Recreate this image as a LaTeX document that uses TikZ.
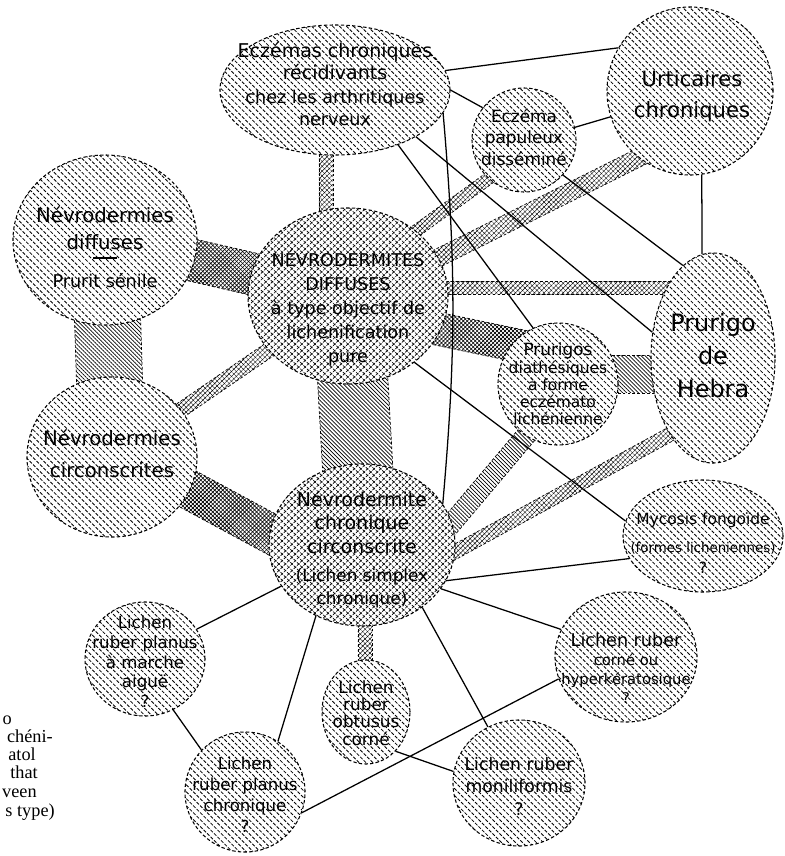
\documentclass[tikz,border=0pt]{standalone}
\usepackage{fontspec}
\setmainfont{DejaVu Sans}
\newfontfamily\capfont{Liberation Serif}
\usetikzlibrary{shapes.geometric,patterns.meta,calc,backgrounds}

\tikzset{
  blob/.style={ellipse, inner sep=0pt, draw, line width=0.75pt,
    dash pattern=on 2.4pt off 1.6pt, preaction={fill=white},
    pattern={Lines[angle=-45,distance=3.5pt,line width=0.6pt]}},
  crossblob/.style={blob,
    preaction={pattern={Lines[angle=45,distance=3.3pt,line width=0.45pt]}},
    pattern={Lines[angle=-45,distance=3.3pt,line width=0.45pt]}},
  txt/.style={align=center, inner sep=0pt},
  link/.style={line width=0.9pt},
  band/.style={draw, line width=0.5pt, dash pattern=on 2pt off 1.5pt,
    preaction={fill=white}},
  darkband/.style={band,
    preaction={pattern={Lines[angle=45,distance=2pt,line width=0.45pt]}},
    pattern={Lines[angle=-45,distance=2pt,line width=0.45pt]}},
  midband/.style={band, pattern={Lines[angle=-45,distance=2pt,line width=0.5pt]}},
  lightband/.style={band,
    preaction={pattern={Lines[angle=45,distance=2.4pt,line width=0.3pt]}},
    pattern={Lines[angle=-45,distance=2.4pt,line width=0.3pt]}},
  captxt/.style={font=\capfont\fontsize{13}{15}\selectfont, inner sep=0pt}
}

% band between two nodes: [style]{node}{offset}{node}{offset}{half width}
\newcommand\band[6][lightband]{%
  \coordinate (ba) at ($(#2)+(#3)$);
  \coordinate (bb) at ($(#4)+(#5)$);
  \path[#1] ($(ba)!#6!90:(bb)$) -- ($(bb)!#6!-90:(ba)$)
    -- ($(bb)!#6!90:(ba)$) -- ($(ba)!#6!-90:(bb)$) -- cycle;}

\begin{document}
\begin{tikzpicture}[x=0.025cm,y=-0.025cm]

    \useasboundingbox (0,0) rectangle (784,856);

    % the groups
    \node[blob, minimum width=5.75cm, minimum height=3.25cm] (ecz) at (335,90) {};
    \node[blob, minimum width=4.15cm, minimum height=4.2cm] (urt) at (690,91) {};
    \node[blob, minimum width=2.6cm, minimum height=2.6cm] (pap) at (524,140) {};
    \node[blob, minimum width=4.6cm, minimum height=4.25cm] (ndies) at (105,240) {};
    \node[crossblob, minimum width=5cm, minimum height=4.4cm] (ndites) at (348,296) {};
    \node[blob, minimum width=3.1cm, minimum height=5.25cm] (hebra) at (713,358) {};
    \node[blob, minimum width=3cm, minimum height=3.05cm] (diath) at (558,384) {};
    \node[blob, minimum width=4.25cm, minimum height=4cm] (ncirc) at (112,457) {};
    \node[crossblob, minimum width=4.65cm, minimum height=4.05cm] (ncc) at (362,545) {};
    \node[blob, minimum width=4cm, minimum height=2.8cm] (myc) at (703,536) {};
    \node[blob, minimum width=3cm, minimum height=2.85cm] (aigue) at (145,659) {};
    \node[blob, minimum width=3cm, minimum height=3cm] (pchron) at (245,792) {};
    \node[blob, minimum width=2.2cm, minimum height=2.6cm] (obt) at (366,712) {};
    \node[blob, minimum width=3.55cm, minimum height=3.25cm] (corne) at (626,657) {};
    \node[blob, minimum width=3.3cm, minimum height=3.15cm] (monil) at (519,783) {};

    % hatched bands behind the groups
    \begin{scope}[on background layer]
        \band{ecz}{-9,0}{ndites}{-22,0}{5pt}
        \band[darkband]{ndies}{0,0}{ndites}{0,0}{15pt}
        \band[midband]{ndies}{0,0}{ncirc}{0,0}{23.5pt}
        \band{ncirc}{0,0}{ndites}{0,0}{5.3pt}
        \band[midband]{ndites}{0,0}{ncc}{0,0}{25pt}
        \band[darkband]{ncirc}{0,-9}{ncc}{0,38}{14pt}
        \band{ndites}{0,-16}{pap}{0,13}{4.3pt}
        \band{ndites}{0,7}{urt}{0,41}{6.4pt}
        \band{ndites}{0,-8}{hebra}{0,-70}{4.6pt}
        \band[darkband]{ndites}{0,14}{diath}{0,-30}{11.7pt}
        \band[midband]{diath}{0,-10}{hebra}{0,16}{13.5pt}
        \band[midband]{ncc}{58,16}{diath}{-13,29}{7pt}
        \band{ncc}{58,26}{hebra}{-13,60}{5pt}
        \band{ncc}{3,0}{obt}{-1,0}{5pt}
    \end{scope}

    % plain links
    \draw[link] (ecz.10) -- (urt.149);
    \draw[link] (ecz.0) -- (pap.142);
    \draw[link] (pap.14) -- (urt.198);
    \draw[link] (urt.278) -- (hebra.96);
    \draw[link] (pap.-42) -- (hebra.108);
    \draw[link] (ecz.-30) -- (hebra.157);
    \draw[link] (ecz.-41) -- (diath.114);
    \draw[link] (ecz.-12) to[bend left=5] (ncc.27);
    \draw[link] (ndites.-45) -- (myc.169);
    \draw[link] (ncc.-23) -- (myc.197);
    \draw[link] (ncc.-29) -- (corne.157);
    \draw[link] (ncc.-46) -- (monil.119);
    \draw[link] (ncc.207) -- (aigue.30);
    \draw[link] (ncc.237) -- (pchron.57);
    \draw[link] (aigue.-61) -- (pchron.136);
    \draw[link] (pchron.-20) -- (corne.198);
    \draw[link] (obt.-53) -- (monil.170);

    % texts
    \node[txt, font=\fontsize{13.5}{15.5}\selectfont] (ecz-t) at (335,84)
        {Eczémas chroniques\\récidivants\\[2pt]{\fontsize{12.5}{14}\selectfont chez les arthritiques}\\{\fontsize{12.5}{14}\selectfont nerveux}};
    \node[txt, font=\fontsize{15}{22.5}\selectfont] (urt-t) at (692,96) {Urticaires\\chroniques};
    \node[txt, font=\fontsize{12}{15.3}\selectfont] (pap-t) at (524,137) {Eczéma\\papuleux\\disséminé};
    \node[txt, font=\fontsize{14}{19}\selectfont] (ndies-t) at (105,247)
        {Névrodermies\\diffuses\\[8pt]{\fontsize{12.5}{15}\selectfont Prurit sénile}};
    \draw[line width=0.8pt] ($(ndies)+(-12,18)$) -- ++(24,0);
    \node[txt, font=\fontsize{12.5}{17}\selectfont] (ndites-t) at (348,308)
        {NÉVRODERMITES\\DIFFUSES\\à type objectif de\\lichenification\\pure};
    \node[txt, font=\fontsize{17}{23.5}\selectfont] (hebra-t) at (713,356) {Prurigo\\de\\Hebra};
    \node[txt, font=\fontsize{11}{12.2}\selectfont] (diath-t) at (558,384)
        {{\fontsize{12}{12.2}\selectfont Prurigos}\\diathésiques\\à forme\\eczémato\\lichénienne};
    \node[txt, font=\fontsize{14}{22.5}\selectfont] (ncirc-t) at (112,454) {Névrodermies\\circonscrites};
    \node[txt, font=\fontsize{13.5}{16.4}\selectfont] (ncc-t) at (362,550)
        {Névrodermite\\chronique\\circonscrite\\[4pt]{\fontsize{12}{14}\selectfont (Lichen simplex}\\{\fontsize{12}{14}\selectfont chronique)}};
    \node[txt, font=\fontsize{11}{15}\selectfont] (myc-t) at (703,543)
        {Mycosis fongoïde\\[5pt]{\fontsize{9.5}{11}\selectfont (formes licheniennes)}\\?};
    \node[txt, font=\fontsize{11.8}{14}\selectfont] (aigue-t) at (145,662) {Lichen\\ruber planus\\à marche\\aiguë\\?};
    \node[txt, font=\fontsize{11.8}{15}\selectfont] (pchron-t) at (245,795) {Lichen\\ruber planus\\chronique\\?};
    \node[txt, font=\fontsize{12}{12.3}\selectfont] (obt-t) at (366,713) {Lichen\\ruber\\obtusus\\corné};
    \node[txt, font=\fontsize{10.5}{13.5}\selectfont] (corne-t) at (626,668)
        {{\fontsize{12.5}{13.5}\selectfont Lichen ruber}\\corné ou\\hyperkératosique\\?};
    \node[txt, font=\fontsize{12.3}{16}\selectfont] (monil-t) at (519,786) {Lichen ruber\\moniliformis\\?};

    % cut caption on the left edge
    \foreach \t/\x/\y [count=\i] in {o/12/724, chéni-/53/742, atol/36/760, that/38/778, veen/37/797, s type)/55/816}
        \node[captxt, anchor=base east] (cap\i) at (\x,\y) {\t};

\end{tikzpicture}
\end{document}
